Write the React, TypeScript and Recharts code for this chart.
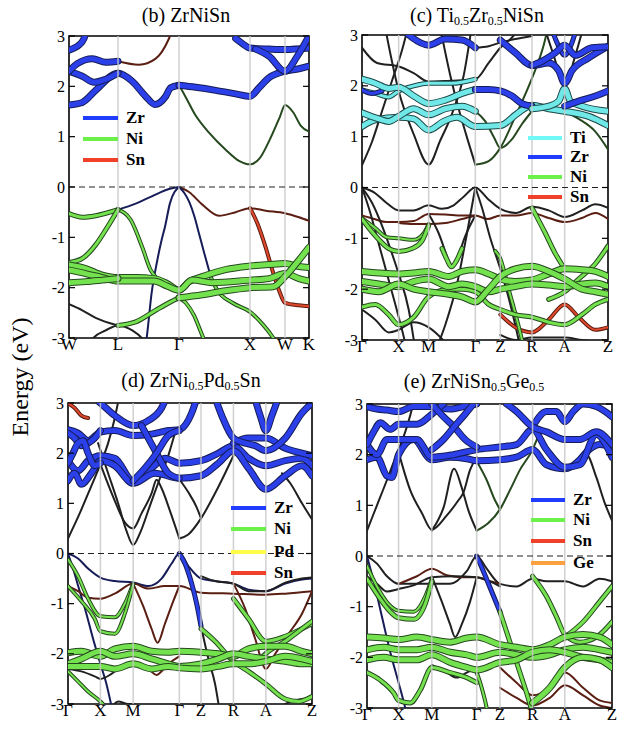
import React from 'react';
import { LineChart, Line, XAxis, YAxis, ReferenceLine, ReferenceArea } from 'recharts';

type Band = { el: string; wt: number; pts: number[][] };

const FONT = '"Liberation Serif", "Times New Roman", serif';
const ENERGY_TICKS = [-3, -2, -1, 0, 1, 2, 3];

// ---------- panel (b) ZrNiSn ----------
const B_NODES = [0, 147, 330, 543, 648, 720];
const B_LABELS = ['W', 'L', 'Γ', 'X', 'W', 'K'];
const B_LEGEND = ['Zr', 'Ni', 'Sn'];
const B_BANDS: Band[] = [
  { el: 'Zr', wt: 1, pts: [[147,-0.45],[200,-0.33],[250,-0.18],[300,-0.04],[330,0]] },
  { el: 'Sn', wt: 1, pts: [[330,0],[360,-0.1],[400,-0.35],[450,-0.57],[500,-0.5],[543,-0.42],[590,-0.47],[648,-0.52],[690,-0.6],[720,-0.67]] },
  { el: 'Zr', wt: 1, pts: [[215,-3.6],[233,-3.0],[248,-2.1],[263,-1.52],[278,-1.05],[288,-0.79],[303,-0.32],[330,0]] },
  { el: 'Zr', wt: 1, pts: [[330,0],[346,-0.12],[361,-0.3],[376,-0.58],[391,-0.95],[406,-1.32],[426,-1.8]] },
  { el: 'Ni', wt: 1.5, pts: [[426,-1.8],[445,-2.05],[490,-2.3],[543,-2.48],[580,-2.72],[613,-3.0],[640,-3.3]] },
  { el: 'Ni', wt: 1, pts: [[330,2.02],[345,1.85],[380,1.42],[420,1.08],[470,0.74],[510,0.52],[543,0.45],[573,0.58],[603,0.95],[633,1.4],[648,1.63],[673,1.48],[695,1.22],[720,1.1]] },
  { el: 'Sn', wt: 1, pts: [[147,2.5],[210,2.43],[260,2.55],[300,2.95],[320,3.3]] },
  { el: 'Sn', wt: 1.5, pts: [[543,-0.42],[565,-0.72],[590,-1.2],[610,-1.65],[630,-2.05],[648,-2.3],[690,-2.35],[720,-2.37]] },
  { el: '-', wt: 1, pts: [[0,-2.33],[40,-2.45],[80,-2.6],[147,-2.75]] },
  { el: '-', wt: 1, pts: [[45,-3.3],[73,-3.0],[110,-2.85],[147,-2.75],[190,-2.85],[225,-3.05],[250,-3.3]] },
  { el: 'Ni', wt: 1.5, pts: [[330,-2.2],[350,-2.3],[375,-2.55],[398,-2.92],[415,-3.2]] },
  { el: 'Ni', wt: 1.5, pts: [[147,-0.45],[185,-0.65],[220,-1.2],[245,-1.65],[265,-1.82]] },
  { el: 'Ni', wt: 2, pts: [[0,-0.53],[40,-0.6],[80,-0.57],[147,-0.45]] },
  { el: 'Ni', wt: 2, pts: [[0,-1.5],[40,-1.42],[80,-1.15],[115,-0.8],[147,-0.45]] },
  { el: 'Ni', wt: 2, pts: [[147,-2.75],[200,-2.68],[260,-2.45],[300,-2.3],[330,-2.2]] },
  { el: 'Zr', wt: 3, pts: [[0,1.63],[40,1.68],[80,1.92],[147,2.26],[190,2.1],[230,1.8],[258,1.64],[290,1.8],[305,1.97],[330,2.02]] },
  { el: 'Zr', wt: 3, pts: [[0,2.3],[40,2.2],[75,2.08],[110,2.14],[147,2.26]] },
  { el: 'Zr', wt: 3, pts: [[0,2.3],[25,2.45],[70,2.55],[110,2.48],[147,2.5]] },
  { el: 'Zr', wt: 3, pts: [[0,2.72],[15,2.76],[30,2.82],[45,2.95],[60,3.3]] },
  { el: 'Zr', wt: 3, pts: [[330,2.02],[380,1.98],[440,1.92],[500,1.85],[543,1.8],[570,1.97],[600,2.17],[648,2.3],[690,2.35],[720,2.4]] },
  { el: 'Zr', wt: 3, pts: [[500,2.95],[520,2.85],[543,2.76],[600,2.74],[648,2.73],[720,2.76]] },
  { el: 'Zr', wt: 3, pts: [[560,2.74],[600,2.6],[648,2.3],[685,2.6],[720,3.0]] },
  { el: 'Ni', wt: 3, pts: [[0,-1.55],[50,-1.62],[100,-1.75],[147,-1.8],[200,-1.8],[255,-1.82],[295,-1.92],[330,-2.05],[360,-1.88],[400,-1.78],[470,-1.64],[543,-1.57],[600,-1.54],[648,-1.52],[690,-1.58],[720,-1.6]] },
  { el: 'Ni', wt: 3, pts: [[0,-1.65],[50,-1.72],[100,-1.8],[147,-1.87],[200,-1.87],[255,-1.87],[295,-1.97],[330,-2.05],[370,-1.85],[430,-1.9],[543,-1.85],[600,-1.82],[648,-1.72],[690,-1.82],[720,-1.87]] },
  { el: 'Ni', wt: 3, pts: [[0,-1.9],[50,-1.88],[100,-1.85],[147,-1.82]] },
  { el: 'Ni', wt: 3, pts: [[330,-2.2],[400,-2.14],[470,-2.06],[543,-2.0],[613,-1.98],[648,-1.78],[690,-1.45],[720,-1.2]] },
];

// ---------- panel (c) Ti0.5Zr0.5NiSn ----------
const C_NODES = [0, 110, 200, 340, 415, 510, 608, 738];
const C_LABELS = ['Γ', 'X', 'M', 'Γ', 'Z', 'R', 'A', 'Z'];
const C_LEGEND = ['Ti', 'Zr', 'Ni', 'Sn'];
const C_BANDS: Band[] = [
  { el: '-', wt: 1, pts: [[65,3.3],[110,1.9],[155,1.05],[200,0.45],[235,0.93],[270,1.45],[305,2.2],[330,3.2]] },
  { el: '-', wt: 1, pts: [[230,3.3],[265,2.2],[290,1.55],[312,1.05],[340,0.45]] },
  { el: 'Ni', wt: 1, pts: [[340,0.45],[380,0.52],[415,0.78],[460,1.4],[510,2.15],[545,2.8],[560,3.2]] },
  { el: '-', wt: 1, pts: [[0,0.44],[30,0.9],[60,1.5],[90,2.1],[120,2.7],[140,3.2]] },
  { el: 'Ni', wt: 1, pts: [[340,1.5],[370,1.3],[395,1.0],[415,0.78],[450,0.95],[480,1.25],[510,1.5]] },
  { el: 'Ni', wt: 1, pts: [[608,1.5],[650,1.35],[700,1.1],[738,0.75]] },
  { el: '-', wt: 1, pts: [[0,2.75],[45,2.45],[110,2.38],[155,2.25],[200,2.08],[265,2.1],[340,2.13],[380,2.45],[415,2.75],[450,2.95],[480,3.2]] },
  { el: '-', wt: 1, pts: [[340,2.75],[380,2.78],[415,2.85],[460,2.92],[510,2.98]] },
  { el: '-', wt: 1, pts: [[540,3.3],[575,2.6],[608,2.0],[640,2.6],[670,3.3]] },
  { el: '-', wt: 1, pts: [[0,0],[37,-0.1],[73,-0.3],[110,-0.45],[155,-0.45],[200,-0.35],[240,-0.42],[275,-0.35],[305,-0.18],[340,0],[377,-0.22],[415,-0.42],[462,-0.5],[510,-0.38],[560,-0.45],[608,-0.58],[660,-0.45],[700,-0.33],[738,-0.4]] },
  { el: 'Sn', wt: 1, pts: [[0,-0.55],[37,-0.62],[73,-0.68],[110,-0.68],[155,-0.66],[200,-0.52],[250,-0.53],[300,-0.55],[340,-0.55],[377,-0.62],[415,-0.55],[462,-0.55],[510,-0.5],[560,-0.6],[608,-0.68],[660,-0.6],[700,-0.5],[738,-0.62]] },
  { el: 'Sn', wt: 1, pts: [[110,-0.7],[155,-0.72],[200,-0.72],[250,-0.7],[300,-0.62],[340,-0.55]] },
  { el: '-', wt: 1, pts: [[0,0],[25,-0.5],[50,-1.1],[75,-1.7],[100,-2.3],[120,-2.8],[135,-3.2]] },
  { el: '-', wt: 1, pts: [[0,0],[30,-0.3],[60,-0.75],[90,-1.3],[110,-1.7],[140,-2.4],[160,-3.2]] },
  { el: '-', wt: 1, pts: [[200,-0.52],[230,-0.9],[255,-1.35],[268,-1.56],[285,-1.4],[310,-0.95],[340,-0.55]] },
  { el: '-', wt: 1, pts: [[340,0],[360,-0.4],[385,-1.0],[415,-1.6],[445,-2.3],[470,-3.0],[480,-3.3]] },
  { el: '-', wt: 1, pts: [[215,-3.3],[250,-2.7],[285,-1.9],[315,-0.9],[340,0]] },
  { el: 'Ni', wt: 2, pts: [[510,-0.4],[550,-0.9],[580,-1.3],[608,-1.6]] },
  { el: 'Ni', wt: 2, pts: [[560,-2.2],[608,-2.05],[650,-1.8],[700,-1.5],[738,-1.15]] },
  { el: 'Ni', wt: 1.5, pts: [[0,-0.6],[40,-0.8],[75,-0.98],[110,-1.0],[155,-1.03],[185,-0.9],[200,-0.72]] },
  { el: 'Ni', wt: 2, pts: [[0,-0.62],[40,-0.95],[80,-1.2],[110,-1.26],[150,-1.2],[180,-1.05],[200,-0.75]] },
  { el: '-', wt: 1, pts: [[0,-2.4],[40,-2.6],[80,-2.85],[110,-2.8],[155,-2.65],[200,-2.75],[250,-3.05],[280,-3.3]] },
  { el: 'Sn', wt: 1.5, pts: [[415,-2.5],[460,-2.75],[510,-2.85],[560,-2.6],[608,-2.3],[650,-2.55],[700,-2.8],[738,-2.75]] },
  { el: '-', wt: 1, pts: [[415,-2.9],[460,-3.0],[510,-2.95],[560,-2.95],[608,-2.95],[660,-3.0],[738,-3.05]] },
  { el: 'Ni', wt: 1.5, pts: [[400,-1.25],[415,-1.4],[440,-2.0],[465,-2.6],[480,-3.0],[490,-3.3]] },
  { el: 'Ti', wt: 3, pts: [[0,1.2],[40,1.33],[110,1.38],[155,1.35],[200,1.13],[245,1.3],[285,1.38],[340,1.2],[415,1.22],[465,1.45],[510,1.62],[560,1.55],[608,1.5],[680,1.4],[738,1.22]] },
  { el: 'Ti', wt: 3, pts: [[0,1.47],[50,1.35],[80,1.3],[110,1.4],[155,1.55],[200,1.43],[250,1.55],[300,1.6],[340,1.5]] },
  { el: 'Ti', wt: 3, pts: [[0,2.13],[40,2.05],[80,1.95],[110,1.97],[155,1.8],[200,1.65],[250,1.72],[300,1.85],[340,1.93]] },
  { el: 'Ti', wt: 2, pts: [[0,1.92],[40,1.85],[80,1.78],[110,1.9],[155,2.0],[200,2.05],[270,2.05],[340,2.13]] },
  { el: 'Zr', wt: 2, pts: [[0,1.92],[30,1.85],[60,1.9]] },
  { el: 'Zr', wt: 3, pts: [[340,1.93],[380,1.93],[415,1.9],[450,1.8],[480,1.65],[510,1.6]] },
  { el: 'Ti', wt: 3, pts: [[510,1.55],[560,1.6],[590,1.7],[608,1.95],[625,1.7],[660,1.6],[738,1.5]] },
  { el: 'Zr', wt: 3, pts: [[110,3.2],[150,2.95],[200,2.8],[250,2.92],[300,2.9],[340,2.75]] },
  { el: 'Zr', wt: 3, pts: [[415,2.9],[460,2.65],[510,2.4],[560,2.45],[590,2.3],[608,2.05],[630,2.3],[680,2.55],[738,2.78]] },
  { el: 'Zr', wt: 3, pts: [[510,2.4],[545,2.5],[580,2.65],[608,2.8],[640,2.6],[690,2.75],[738,2.77]] },
  { el: 'Zr', wt: 3, pts: [[608,1.6],[650,1.7],[700,1.8],[738,1.9]] },
  { el: 'Zr', wt: 2, pts: [[560,3.3],[585,2.85],[608,2.6],[630,2.85],[650,3.3]] },
  { el: 'Ni', wt: 3, pts: [[0,-1.65],[50,-1.68],[110,-1.7],[155,-1.68],[200,-1.65],[260,-1.75],[300,-1.65],[340,-1.62],[380,-1.7],[415,-1.8],[460,-1.85],[510,-1.82],[560,-1.7],[608,-1.6],[660,-1.62],[700,-1.65],[738,-1.75]] },
  { el: 'Ni', wt: 3, pts: [[0,-1.85],[50,-1.9],[110,-1.95],[155,-1.85],[200,-1.8],[260,-1.95],[300,-1.9],[340,-1.95],[380,-2.05],[415,-2.0],[460,-1.95],[510,-1.9],[560,-1.92],[608,-1.95],[660,-1.9],[700,-1.88],[738,-1.95]] },
  { el: 'Ni', wt: 3, pts: [[0,-2.0],[50,-2.05],[110,-1.9],[155,-2.0],[200,-2.05],[260,-2.1],[300,-2.15],[340,-2.25],[380,-2.0],[415,-1.75],[460,-1.6],[510,-1.55],[560,-1.65],[608,-1.8],[660,-2.0],[700,-2.05],[738,-2.1]] },
  { el: 'Ni', wt: 2, pts: [[0,-2.35],[40,-2.3],[80,-2.5],[110,-2.7],[155,-2.55],[200,-2.15],[260,-2.0],[300,-2.0],[340,-2.05],[380,-2.3],[415,-2.4],[460,-2.5],[510,-2.55],[560,-2.65],[608,-2.7],[660,-2.5],[700,-2.3],[738,-2.2]] },
  { el: 'Ni', wt: 2, pts: [[240,-1.2],[255,-1.42],[268,-1.56],[285,-1.42],[300,-1.2]] },
];

// ---------- panel (d) ZrNi0.5Pd0.5Sn ----------
const D_NODES = [0, 97, 195, 333, 398, 495, 592, 730];
const D_LABELS = ['Γ', 'X', 'M', 'Γ', 'Z', 'R', 'A', 'Z'];
const D_LEGEND = ['Zr', 'Ni', 'Pd', 'Sn'];
const D_BANDS: Band[] = [
  { el: '-', wt: 1, pts: [[0,0.3],[35,0.8],[70,1.35],[97,1.78],[120,2.2],[140,2.7],[155,3.2]] },
  { el: '-', wt: 1, pts: [[97,1.78],[140,1.05],[170,0.62],[195,0.5],[220,0.8],[250,1.2],[265,1.47],[280,1.3],[305,0.85],[333,0.3]] },
  { el: '-', wt: 1, pts: [[90,2.2],[120,1.6],[150,1.0],[175,0.45],[195,0.17],[215,0.4],[245,0.95],[275,1.5],[300,1.95],[320,2.4]] },
  { el: '-', wt: 1, pts: [[333,0.3],[360,0.38],[398,0.7],[440,1.2],[470,1.6],[495,1.95]] },
  { el: '-', wt: 1, pts: [[333,1.48],[360,1.22],[385,0.92],[398,0.7]] },
  { el: '-', wt: 1, pts: [[640,1.6],[665,1.4],[700,1.0],[730,0.68]] },
  { el: 'Sn', wt: 1.5, pts: [[0,3.0],[20,2.9],[40,2.75],[60,2.7]] },
  { el: 'Zr', wt: 1, pts: [[0,0],[30,-0.1],[60,-0.3],[97,-0.48],[140,-0.55],[195,-0.58],[240,-0.65],[280,-0.5],[310,-0.2],[333,0],[360,-0.25],[398,-0.5],[440,-0.55],[495,-0.6],[540,-0.72],[592,-0.75],[650,-0.6],[700,-0.52],[730,-0.5]] },
  { el: 'Zr', wt: 1, pts: [[0,0],[15,-0.3],[35,-0.75],[55,-1.2],[75,-1.7],[97,-2.2],[115,-2.6],[135,-3.2]] },
  { el: 'Sn', wt: 1, pts: [[0,-0.65],[30,-0.75],[60,-0.88],[97,-0.9],[140,-0.8],[195,-0.6],[240,-0.7],[290,-0.65],[333,-0.65],[398,-0.78],[495,-0.8],[592,-0.82],[650,-0.8],[730,-0.75]] },
  { el: 'Sn', wt: 1, pts: [[195,-0.6],[225,-1.05],[250,-1.5],[268,-1.78],[290,-1.4],[315,-0.95],[333,-0.65]] },
  { el: '-', wt: 1, pts: [[398,-0.45],[440,-0.55],[495,-0.6],[540,-0.75],[592,-0.75],[650,-0.58],[700,-0.5],[730,-0.48]] },
  { el: 'Sn', wt: 1, pts: [[495,-0.6],[530,-1.1],[560,-1.7],[592,-2.3],[620,-2.0],[660,-1.6],[700,-1.2],[730,-0.75]] },
  { el: '-', wt: 1, pts: [[0,-2.3],[40,-2.35],[80,-2.45],[97,-2.5],[130,-2.4],[160,-2.25],[195,-2.2]] },
  { el: 'Sn', wt: 1, pts: [[195,-2.2],[240,-2.3],[265,-2.42],[300,-2.2],[333,-2.05]] },
  { el: '-', wt: 1, pts: [[120,-3.2],[150,-2.95],[180,-3.0],[195,-3.0],[220,-3.2]] },
  { el: '-', wt: 1, pts: [[610,-3.2],[650,-3.0],[700,-2.9],[730,-2.88]] },
  { el: 'Zr', wt: 2, pts: [[333,0],[350,-0.2],[370,-0.6],[385,-1.0],[398,-1.45]] },
  { el: '-', wt: 1, pts: [[398,-1.45],[420,-2.1],[440,-2.6],[455,-3.2]] },
  { el: 'Ni', wt: 1.5, pts: [[0,-0.12],[30,-0.45],[60,-0.9],[97,-1.25],[140,-1.27],[170,-1.0],[195,-0.6]] },
  { el: 'Ni', wt: 1.5, pts: [[0,-0.65],[40,-0.95],[80,-1.3],[97,-1.55],[140,-1.6],[170,-1.2],[195,-0.62]] },
  { el: 'Ni', wt: 1.5, pts: [[0,-2.35],[30,-2.55],[60,-2.75],[97,-2.95],[130,-3.2]] },
  { el: 'Ni', wt: 2, pts: [[495,-0.9],[540,-1.3],[592,-1.75],[650,-1.65],[700,-1.5],[730,-1.4]] },
  { el: 'Ni', wt: 2, pts: [[560,-2.2],[600,-1.95],[650,-1.75],[700,-1.5],[730,-1.35]] },
  { el: 'Ni', wt: 2, pts: [[398,-1.5],[440,-1.75],[495,-2.15],[540,-2.35],[592,-2.6],[650,-2.9],[690,-2.95],[730,-2.85]] },
  { el: 'Zr', wt: 3, pts: [[0,1.85],[30,1.65],[60,1.85],[97,1.95],[140,1.9],[195,1.45],[250,1.7],[290,1.9],[333,1.8],[398,1.85],[450,2.0],[495,2.15],[540,1.9],[592,1.75],[650,1.85],[700,1.9],[730,1.75]] },
  { el: 'Zr', wt: 3, pts: [[0,1.45],[20,1.6],[40,1.38],[70,1.6],[97,1.85],[140,1.75],[195,1.4],[260,1.6],[333,1.5],[398,1.55],[450,1.8],[495,2.05],[540,1.7],[592,1.28],[650,1.55],[700,1.75],[730,1.55]] },
  { el: 'Zr', wt: 3, pts: [[0,2.47],[30,2.4],[60,2.25],[97,2.42],[140,2.45],[195,2.35],[250,2.38],[300,2.45],[333,2.47],[370,2.8],[390,3.2]] },
  { el: 'Zr', wt: 3, pts: [[60,3.2],[97,3.0],[140,2.75],[195,2.55],[240,2.65],[280,2.9],[300,3.2]] },
  { el: 'Zr', wt: 3, pts: [[220,2.55],[265,2.0],[300,1.6],[333,1.5]] },
  { el: 'Zr', wt: 3, pts: [[195,1.45],[230,1.7],[265,2.0],[300,2.35],[333,2.45]] },
  { el: 'Zr', wt: 3, pts: [[495,2.2],[540,2.3],[592,2.3],[650,2.1],[700,2.0],[730,1.95]] },
  { el: 'Zr', wt: 3, pts: [[550,3.3],[575,2.75],[592,2.45],[610,2.75],[640,3.3]] },
  { el: 'Zr', wt: 3, pts: [[430,3.3],[460,2.75],[495,2.3],[530,2.2],[560,2.15],[592,2.05],[650,2.3],[700,2.8],[730,3.0]] },
  { el: 'Zr', wt: 3, pts: [[0,2.4],[20,2.3],[40,2.15],[60,2.2],[80,2.3],[97,2.45]] },
  { el: 'Zr', wt: 3, pts: [[0,1.8],[15,2.0],[30,2.2],[45,2.25],[60,2.0],[80,1.75],[97,1.8]] },
  { el: 'Ni', wt: 3, pts: [[0,-1.98],[40,-1.95],[97,-2.05],[140,-1.9],[195,-1.85],[250,-1.95],[300,-1.97],[333,-1.95],[398,-1.97],[450,-2.0],[495,-2.05],[540,-1.9],[592,-1.85],[650,-1.85],[700,-1.95],[730,-2.0]] },
  { el: 'Ni', wt: 3, pts: [[0,-2.2],[40,-2.1],[97,-1.95],[140,-2.05],[195,-2.0],[250,-2.1],[300,-2.2],[333,-2.25],[398,-2.2],[450,-2.1],[495,-2.0],[540,-2.05],[592,-2.1],[650,-2.15],[700,-2.2],[730,-2.2]] },
  { el: 'Ni', wt: 3, pts: [[0,-2.25],[40,-2.25],[97,-2.25],[140,-2.3],[195,-2.2],[250,-2.3],[300,-2.25],[333,-2.28],[398,-2.3],[450,-2.25],[495,-2.2],[540,-2.2],[592,-2.15],[650,-2.05],[700,-2.1],[730,-2.15]] },
];

// ---------- panel (e) ZrNiSn0.5Ge0.5 ----------
const E_NODES = [0, 95, 195, 330, 400, 498, 595, 737];
const E_LABELS = ['Γ', 'X', 'M', 'Γ', 'Z', 'R', 'A', 'Z'];
const E_LEGEND = ['Zr', 'Ni', 'Sn', 'Ge'];
const E_BANDS: Band[] = [
  { el: '-', wt: 1, pts: [[0,0.5],[30,1.0],[60,1.5],[80,1.85],[95,2.1],[115,2.45],[135,2.9],[145,3.2]] },
  { el: '-', wt: 1, pts: [[95,2.05],[130,1.3],[165,0.85],[195,0.52],[240,0.8],[275,1.1],[290,1.25],[310,1.7],[330,1.95]] },
  { el: '-', wt: 1, pts: [[195,0.5],[230,0.95],[262,1.72],[285,1.35],[305,0.9],[330,0.5]] },
  { el: 'Ni', wt: 1, pts: [[330,0.5],[365,0.65],[400,0.92],[430,1.3],[460,1.7],[498,2.1],[520,2.45]] },
  { el: 'Ni', wt: 1, pts: [[330,1.87],[360,1.5],[385,1.1],[400,0.92]] },
  { el: '-', wt: 1, pts: [[595,1.72],[630,1.85],[660,2.0],[690,1.55],[715,1.05],[737,0.7]] },
  { el: '-', wt: 1, pts: [[0,0],[30,-0.15],[60,-0.4],[95,-0.55],[150,-0.55],[195,-0.55],[250,-0.55],[300,-0.3],[330,0],[360,-0.25],[400,-0.55],[450,-0.6],[498,-0.45],[540,-0.5],[595,-0.5],[650,-0.6],[700,-0.45],[737,-0.5]] },
  { el: 'Sn', wt: 1, pts: [[95,-0.55],[150,-0.4],[195,-0.25],[240,-0.38],[290,-0.42],[330,-0.42],[360,-0.48],[400,-0.55]] },
  { el: '-', wt: 1, pts: [[0,-0.4],[30,-0.55],[60,-0.7],[95,-0.65],[140,-0.58],[195,-0.42],[260,-0.4],[330,-0.42],[400,-0.6]] },
  { el: 'Zr', wt: 1, pts: [[0,0],[20,-0.5],[45,-1.2],[70,-1.9],[95,-2.5],[115,-3.0],[125,-3.3]] },
  { el: '-', wt: 1, pts: [[195,-0.4],[225,-0.9],[250,-1.35],[265,-1.6],[285,-1.35],[310,-0.9],[330,-0.42]] },
  { el: '-', wt: 1, pts: [[195,-2.15],[240,-2.3],[270,-2.4],[300,-2.3],[330,-2.2]] },
  { el: 'Sn', wt: 1, pts: [[400,-2.2],[450,-2.5],[498,-2.75],[550,-2.6],[595,-2.3],[650,-2.6],[700,-2.85],[737,-2.9]] },
  { el: 'Sn', wt: 1, pts: [[400,-2.6],[450,-2.8],[498,-2.95],[550,-2.8],[595,-2.55],[650,-2.75],[700,-2.95],[737,-3.0]] },
  { el: 'Zr', wt: 2, pts: [[330,0],[350,-0.3],[375,-0.7],[400,-1.1]] },
  { el: 'Ni', wt: 2, pts: [[400,-1.1],[420,-1.5],[440,-1.9],[460,-2.3],[480,-2.7],[498,-3.1]] },
  { el: 'Ni', wt: 1.5, pts: [[330,-2.3],[345,-2.6],[360,-3.0],[368,-3.3]] },
  { el: 'Ni', wt: 1.5, pts: [[0,-0.2],[30,-0.6],[65,-0.95],[95,-1.08],[140,-1.1],[175,-0.8],[195,-0.45]] },
  { el: 'Ni', wt: 2, pts: [[0,-0.45],[40,-0.85],[70,-1.1],[95,-1.22],[140,-1.25],[175,-0.95],[195,-0.5]] },
  { el: 'Ni', wt: 2, pts: [[498,-0.4],[540,-0.8],[570,-1.2],[595,-1.55],[640,-1.7],[690,-1.6],[737,-1.3]] },
  { el: 'Ni', wt: 2, pts: [[595,-1.6],[650,-1.3],[700,-0.9],[737,-0.6]] },
  { el: 'Ni', wt: 2, pts: [[0,-2.3],[40,-2.45],[80,-2.7],[95,-2.85],[130,-2.9],[160,-2.65],[195,-2.2],[250,-2.3],[300,-2.4],[330,-2.5]] },
  { el: 'Zr', wt: 3, pts: [[0,1.9],[30,1.95],[60,1.58],[75,1.55],[95,2.0],[140,2.3],[195,1.9],[250,1.95],[300,1.92],[330,1.88],[400,1.9],[450,1.95],[498,2.1],[540,1.8],[595,1.72],[640,1.9],[660,2.05],[700,2.2],[737,2.15]] },
  { el: 'Zr', wt: 3, pts: [[0,2.2],[30,2.0],[60,2.3],[95,2.3],[150,2.3],[195,1.95],[260,2.0],[330,2.1],[400,2.15],[450,2.2],[498,2.5],[540,2.1],[595,1.75],[640,1.8],[690,2.4],[737,1.95]] },
  { el: 'Zr', wt: 3, pts: [[0,2.95],[30,2.9],[60,2.88],[95,2.85],[140,2.95],[195,2.95],[250,2.9],[290,2.95],[330,3.0]] },
  { el: 'Zr', wt: 3, pts: [[0,2.2],[20,2.45],[40,2.63],[70,2.5],[95,2.6],[150,2.6],[195,2.8],[230,3.0]] },
  { el: 'Zr', wt: 3, pts: [[195,3.0],[230,2.75],[262,2.55],[295,2.3],[330,2.15]] },
  { el: 'Zr', wt: 3, pts: [[195,2.1],[230,2.3],[262,2.55],[295,2.8],[320,3.0]] },
  { el: 'Zr', wt: 3, pts: [[498,2.55],[540,2.85],[570,2.85],[595,2.65],[620,2.85],[650,3.0],[690,2.95],[737,2.75]] },
  { el: 'Zr', wt: 3, pts: [[420,3.0],[450,2.85],[498,2.55],[540,2.45],[595,2.3],[640,2.3],[690,2.45],[737,2.2]] },
  { el: 'Ni', wt: 3, pts: [[0,-1.6],[50,-1.62],[95,-1.65],[150,-1.6],[195,-1.65],[250,-1.7],[300,-1.62],[330,-1.6],[400,-1.75],[450,-1.8],[498,-1.85],[550,-1.75],[595,-1.6],[650,-1.55],[700,-1.6],[737,-1.75]] },
  { el: 'Ni', wt: 3, pts: [[0,-1.85],[50,-1.8],[95,-1.85],[150,-1.85],[195,-1.8],[250,-1.9],[300,-1.95],[330,-2.0],[400,-1.9],[450,-1.95],[498,-2.0],[550,-1.95],[595,-1.85],[650,-1.8],[700,-1.85],[737,-1.9]] },
  { el: 'Ni', wt: 3, pts: [[0,-2.05],[50,-2.0],[95,-2.05],[150,-2.05],[195,-1.95],[250,-2.1],[300,-2.2],[330,-2.25],[400,-2.1],[450,-2.05],[498,-1.9],[550,-1.85],[595,-1.9],[650,-2.0],[700,-2.05],[737,-2.1]] },
  { el: 'Ni', wt: 3, pts: [[498,-2.9],[550,-2.6],[595,-2.2],[650,-2.0],[700,-2.05],[737,-2.2]] },
];

// ---------- styling ----------
const LEGEND_COLOR: Record<string, string> = {
  Zr: '#1f3cff', Ni: '#6cf04a', Sn: '#f0402a', Ti: '#6ff8f8', Pd: '#ffff4a', Ge: '#ffa040',
};
const FILL: Record<string, string> = {
  Zr: '#2b40e8', Ni: '#74e24e', Sn: '#e0482c', Ti: '#70e8e8', '-': '#333333',
};
const EDGE: Record<string, string> = {
  Zr: '#161c58', Ni: '#26481e', Sn: '#5a1e12', Ti: '#1c4848', '-': '#202020',
};

function strokesFor(el: string, wt: number): [string, number][] {
  if (wt <= 1) return [[EDGE[el], 2]];
  const w = wt === 1.5 ? 2 : wt === 2 ? 3 : 5;
  return [[EDGE[el], w + 2], [FILL[el], w]];
}

type PanelProps = {
  px: number; py: number; w: number; h: number;
  l: number; r: number; t: number; b: number;
  nodes: number[]; labels: string[]; bands: Band[];
};

function Panel(p: PanelProps) {
  const kmax = p.nodes[p.nodes.length - 1];
  const sorted = [...p.bands].map((bd, i) => ({ bd, i })).sort((a, b) => a.bd.wt - b.bd.wt);
  const YTick = (props: any) => {
    const { y, payload } = props;
    return (
      <g>
        <text x={p.l - 4} y={y} dy="0.35em" textAnchor="end" fontSize={16} fontFamily={FONT} fill="#000">
          {payload.value}
        </text>
        <line x1={p.l} x2={p.l + 6} y1={y} y2={y} stroke="#000" strokeWidth={1.2} />
        <line x1={p.r - 6} x2={p.r} y1={y} y2={y} stroke="#000" strokeWidth={1.2} />
      </g>
    );
  };
  return (
    <div style={{ position: 'absolute', left: p.px, top: p.py, width: p.w, height: p.h }}>
      <LineChart width={p.w} height={p.h} margin={{ top: p.t, right: p.w - p.r, left: 0, bottom: 0 }}>
        <XAxis
          type="number"
          dataKey="k"
          domain={[0, kmax]}
          allowDataOverflow
          ticks={p.nodes}
          interval={0}
          height={p.h - p.b}
          axisLine={false}
          tickLine={false}
          tickSize={0}
          tickMargin={0}
          tick={{ fontSize: 17, fill: '#000', fontFamily: FONT }}
          tickFormatter={(v: number) => p.labels[p.nodes.indexOf(v)]}
        />
        <YAxis
          type="number"
          domain={[-3, 3]}
          allowDataOverflow
          ticks={ENERGY_TICKS}
          interval={0}
          width={p.l}
          axisLine={false}
          tickLine={false}
          tick={YTick}
        />
        {sorted.flatMap(({ bd, i }) =>
          strokesFor(bd.el, bd.wt).map(([c, sw], j) => (
            <Line
              key={`b${i}-${j}`}
              data={bd.pts.map(([k, e]) => ({ k, e }))}
              dataKey="e"
              type="monotone"
              stroke={c}
              strokeWidth={sw}
              strokeLinecap="round"
              dot={false}
              activeDot={false}
              isAnimationActive={false}
            />
          ))
        )}
        {p.nodes.slice(1, -1).map((k) => (
          <ReferenceLine key={`v${k}`} x={k} stroke="#c8c8c8" strokeWidth={1.5} strokeOpacity={0.85} />
        ))}
        <ReferenceLine y={0} stroke="#222" strokeWidth={1} strokeDasharray="6 4" />
        <ReferenceArea x1={0} x2={kmax} y1={-3} y2={3} fill="none" fillOpacity={0} stroke="#000" strokeWidth={1.6} />
      </LineChart>
    </div>
  );
}

function Legend({ items, x1, x2, tx, rows }: { items: string[]; x1: number; x2: number; tx: number; rows: number[] }) {
  return (
    <>
      {items.map((it, i) => (
        <React.Fragment key={it}>
          <div style={{ position: 'absolute', left: x1, top: rows[i] - 2, width: x2 - x1, height: 4, background: LEGEND_COLOR[it] }} />
          <div style={{ position: 'absolute', left: tx, top: rows[i] - 11, lineHeight: '22px', fontSize: 17, fontWeight: 'bold', fontFamily: FONT, color: '#000' }}>
            {it}
          </div>
        </React.Fragment>
      ))}
    </>
  );
}

const subStyle: React.CSSProperties = { fontSize: 12, position: 'relative', top: 3 };

function Title({ cx, cy, children }: { cx: number; cy: number; children: React.ReactNode }) {
  return (
    <div style={{ position: 'absolute', left: cx - 150, top: cy - 12, width: 300, textAlign: 'center', lineHeight: '24px', fontSize: 20, fontFamily: FONT, color: '#000', whiteSpace: 'nowrap' }}>
      {children}
    </div>
  );
}

export default function App() {
  return (
    <div style={{ position: 'absolute', left: 0, top: 0, width: 625, height: 735, background: '#fff', overflow: 'hidden' }}>
      <Panel px={0} py={0} w={320} h={365} l={69} r={309} t={36} b={338} nodes={B_NODES} labels={B_LABELS} bands={B_BANDS} />
      <Panel px={310} py={0} w={315} h={365} l={52} r={298} t={35} b={340} nodes={C_NODES} labels={C_LABELS} bands={C_BANDS} />
      <Panel px={0} py={365} w={320} h={370} l={68} r={312} t={38} b={339} nodes={D_NODES} labels={D_LABELS} bands={D_BANDS} />
      <Panel px={310} py={365} w={315} h={370} l={57} r={302} t={39} b={343} nodes={E_NODES} labels={E_LABELS} bands={E_BANDS} />

      <Title cx={186} cy={15}>(b) ZrNiSn</Title>
      <Title cx={477} cy={15}>(c) Ti<span style={subStyle}>0.5</span>Zr<span style={subStyle}>0.5</span>NiSn</Title>
      <Title cx={191} cy={380}>(d) ZrNi<span style={subStyle}>0.5</span>Pd<span style={subStyle}>0.5</span>Sn</Title>
      <Title cx={474} cy={381}>(e) ZrNiSn<span style={subStyle}>0.5</span>Ge<span style={subStyle}>0.5</span></Title>

      <Legend items={B_LEGEND} x1={83} x2={118} tx={126} rows={[118, 139, 160]} />
      <Legend items={C_LEGEND} x1={528} x2={562} tx={570} rows={[138, 157, 177, 197]} />
      <Legend items={D_LEGEND} x1={231} x2={266} tx={274} rows={[508, 529, 552, 573]} />
      <Legend items={E_LEGEND} x1={531} x2={565} tx={573} rows={[500, 520, 541, 563]} />

      <div style={{ position: 'absolute', left: -80, top: 362, width: 200, height: 30, lineHeight: '30px', textAlign: 'center', fontSize: 24, fontFamily: FONT, color: '#000', transform: 'rotate(-90deg)' }}>
        Energy (eV)
      </div>
    </div>
  );
}
